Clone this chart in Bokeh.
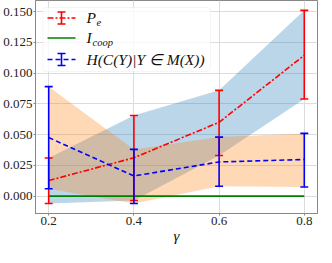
from bokeh.plotting import figure
from bokeh.models import (ColumnDataSource, Whisker, TeeHead, FixedTicker, Label,
                          BoxAnnotation, Arrow, Range1d)
from bokeh.embed import file_html
from bokeh.resources import INLINE

gamma = [0.2, 0.4, 0.6, 0.8]
pe_mean = [0.0127, 0.0312, 0.0600, 0.1145]
pe_low = [-0.0060, -0.0035, 0.0330, 0.0790]
pe_high = [0.0310, 0.0655, 0.0860, 0.1510]
icoop = [0.0, 0.0, 0.0, 0.0]
h_mean = [0.0476, 0.0164, 0.0278, 0.0298]
h_low = [0.0060, -0.0060, 0.0080, 0.0074]
h_high = [0.0890, 0.0380, 0.0480, 0.0510]
x_ticks = [0.2, 0.4, 0.6, 0.8]
y_ticks = [0.0, 0.025, 0.05, 0.075, 0.1, 0.125, 0.15]

FONT = "Liberation Serif"
RED = "#ff0000"
GREEN = "#008000"
BLUE = "#0000ff"
DASHDOT = "6 2 2 2"
DASHED = "5 3"

FW, FH = 282, 213  # frame size
p = figure(frame_width=FW, frame_height=FH, output_backend="svg", toolbar_location=None,
           x_range=Range1d(0.169, 0.831), y_range=Range1d(-0.0141, 0.159),
           min_border_left=33, min_border_right=1, min_border_top=0,
           min_border_bottom=0)

src = ColumnDataSource(dict(x=gamma, pm=pe_mean, pl=pe_low, ph=pe_high, ic=icoop,
                            hm=h_mean, hl=h_low, hh=h_high))

p.varea(x="x", y1="pl", y2="ph", source=src, fill_color="#1f77b4", fill_alpha=0.3)
p.varea(x="x", y1="hl", y2="hh", source=src, fill_color="#ff7f0e", fill_alpha=0.3)

p.line(x="x", y="ic", source=src, line_color=GREEN, line_width=1.6)
p.line(x="x", y="pm", source=src, line_color=RED, line_width=1.6, line_dash=DASHDOT)
p.line(x="x", y="hm", source=src, line_color=BLUE, line_width=1.6, line_dash=DASHED)

for lo, hi, col in (("pl", "ph", RED), ("hl", "hh", BLUE)):
    w = Whisker(base="x", lower=lo, upper=hi, source=src, line_color=col, line_width=1.6,
                level="glyph",
                upper_head=TeeHead(size=8, line_color=col, line_width=1.6),
                lower_head=TeeHead(size=8, line_color=col, line_width=1.6))
    p.add_layout(w)

p.xaxis.ticker = FixedTicker(ticks=x_ticks)
p.yaxis.ticker = FixedTicker(ticks=y_ticks)
p.xaxis.major_label_overrides = {t: f"{t:.1f}" for t in x_ticks}
p.yaxis.major_label_overrides = {t: f"{t:.3f}" for t in y_ticks}
for ax in (p.xaxis, p.yaxis):
    ax.major_label_text_font = FONT
    ax.major_label_text_font_size = "13px"
    ax.major_label_text_color = "#222222"
    ax.axis_line_color = "#888888"
    ax.major_tick_line_color = "#888888"
    ax.major_tick_out = 2
    ax.major_tick_in = 0
    ax.minor_tick_line_color = None
    ax.major_label_standoff = 1
p.xaxis.axis_label = "γ"
p.xaxis.axis_label_text_font = FONT
p.xaxis.axis_label_text_font_style = "italic"
p.xaxis.axis_label_text_font_size = "15px"
p.xaxis.axis_label_text_color = "#111111"
p.xaxis.axis_label_standoff = 0
p.grid.grid_line_color = "#dcdcdc"
p.outline_line_color = "#888888"
p.background_fill_color = "white"
p.border_fill_color = "white"


def lab(x, y, t, size, align="left"):
    p.add_layout(Label(x=x, y=y, x_units="screen", y_units="screen", text=t,
                       text_font=FONT, text_font_style="italic", text_font_size=size,
                       text_baseline="middle", text_align=align, text_color="#111111"))


# legend (screen units relative to the frame, y up)
p.add_layout(BoxAnnotation(left=7.5, right=175, top=FH - 7, bottom=FH - 71,
                           left_units="screen", right_units="screen",
                           top_units="screen", bottom_units="screen",
                           fill_color="white", fill_alpha=0.8, level="underlay",
                           line_color="#dddddd", line_width=1, border_radius=3))
rows = [(FH - 17.5, RED, DASHDOT, True), (FH - 37.5, GREEN, "solid", False),
        (FH - 59, BLUE, DASHED, True)]
for yy, col, dash, eb in rows:
    p.add_layout(Arrow(x_start=12, y_start=yy, x_end=40, y_end=yy,
                       start_units="screen", end_units="screen", end=None,
                       line_color=col, line_width=1.6, line_dash=dash))
    if eb:
        p.add_layout(Whisker(base=26, lower=yy - 6, upper=yy + 6, dimension="height",
                             base_units="screen", lower_units="screen", upper_units="screen",
                             line_color=col, line_width=1.6, level="annotation",
                             upper_head=TeeHead(size=8, line_color=col, line_width=1.6),
                             lower_head=TeeHead(size=8, line_color=col, line_width=1.6)))

lab(51, FH - 17, "P", "15.5px")
lab(61, FH - 22, "e", "10.5px")
lab(51, FH - 37, "I", "15.5px")
lab(57, FH - 42, "coop", "10.5px")
lab(51, FH - 59, "H(C(Y)|Y ∈ M(X))", "15.5px")

open("out.html", "w").write(file_html(p, INLINE))
